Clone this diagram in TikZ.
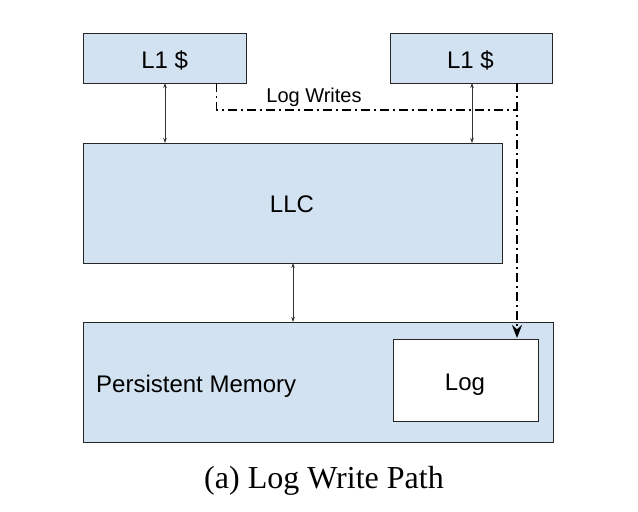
\documentclass[tikz,border=0pt]{standalone}
\usepackage{fontspec}
\setmainfont{Liberation Sans}
\newfontfamily\capfont{Liberation Serif}
\usetikzlibrary{arrows.meta}
\definecolor{boxblue}{HTML}{D3E2F1}
\begin{document}
\begin{tikzpicture}[x=1pt,y=-1pt,
  blk/.style={draw=black!85, line width=0.9pt, fill=boxblue, inner sep=0pt},
  wbox/.style={draw=black!85, line width=0.9pt, fill=white, inner sep=0pt},
  lbl/.style={anchor=base, inner sep=0pt, font=\fontsize{24}{28}\selectfont},
  bi/.style={{Stealth[length=5pt,width=3.5pt]}-{Stealth[length=5pt,width=3.5pt]}, line width=0.7pt, draw=black!80},
  logline/.style={line width=1.9pt, dash pattern=on 9pt off 4pt on 2pt off 4pt}]
\useasboundingbox (0,0) rectangle (638,512);
\node[blk, minimum width=163pt, minimum height=50pt] (l1a) at (164.5,58) {};
\node[blk, minimum width=162pt, minimum height=50pt] (l1b) at (471,58) {};
\node[blk, minimum width=419pt, minimum height=120pt] (llc) at (292.5,203) {};
\node[blk, minimum width=470pt, minimum height=120pt] (pm) at (318,382) {};
\node[wbox, minimum width=145pt, minimum height=82pt] (log) at (465.5,380) {};
\node[lbl] (l1at) at (164.7,68.3) {L1 \$};
\node[lbl] (l1bt) at (470.5,68.3) {L1 \$};
\node[lbl] (llct) at (292,212.7) {LLC};
\node[lbl, anchor=base west] (pmt) at (96,392) {Persistent Memory};
\node[lbl] (logt) at (465,390) {Log};
\draw[bi] (165,83) -- (165,143);
\draw[bi] (472,83) -- (472,143);
\draw[bi] (293,263) -- (293,322);
\coordinate (s1) at (216.5,83);
\coordinate (c1) at (216.5,110);
\coordinate (c2) at (517,110);
\coordinate (s2) at (517,83);
\coordinate (e2) at (517,338);
\draw[logline] (s1) -- (c1) -- (c2);
\draw[logline, -{Stealth[length=13pt,width=10pt]}] (s2) -- (e2);
\node[lbl, font=\fontsize{20}{24}\selectfont] (lw) at (314,102) {Log Writes};
\node[lbl, font=\capfont\fontsize{32}{38}\selectfont] (cap) at (324,488) {(a) Log Write Path};
\end{tikzpicture}
\end{document}
